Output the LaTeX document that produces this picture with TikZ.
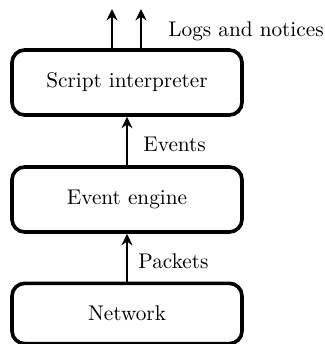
\documentclass[tikz,border=0pt]{standalone}
\usetikzlibrary{arrows.meta}
\begin{document}
\begin{tikzpicture}[x=0.4704pt,y=-0.4704pt,
  box/.style={draw, line width=1.7pt, rounded corners=6pt, minimum width=108.2pt, minimum height=30.6pt, inner sep=0pt},
  arr/.style={-{Stealth[length=5.4pt,width=5.2pt,inset=1.8pt]}, line width=1pt},
  lbl/.style={anchor=base west, inner sep=0pt}]
\useasboundingbox (0,0) rectangle (324,344);
\node[box] (b1) at (127,82.5) {Script interpreter};
\node[box] (b2) at (127,199.5) {Event engine};
\node[box, minimum height=28.4pt] (b3) at (127,313.5) {Network};
\coordinate (t1) at (112,9);
\coordinate (t2) at (141,9);
\draw[arr] (b1.north -| t1) -- (t1);
\draw[arr] (b1.north -| t2) -- (t2);
\draw[arr] (b2.north) -- (b1.south);
\draw[arr] (b3.north) -- (b2.south);
\node[lbl] (l1) at (168,37) {Logs and notices};
\node[lbl] (l2) at (143,152) {Events};
\node[lbl] (l3) at (138,268) {Packets};
\end{tikzpicture}
\end{document}
